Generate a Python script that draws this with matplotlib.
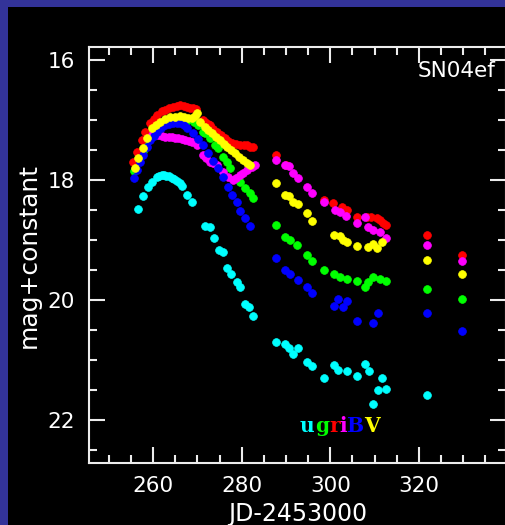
import matplotlib
matplotlib.use("Agg")
import matplotlib.pyplot as plt
from matplotlib.patches import Rectangle
from matplotlib.ticker import MultipleLocator

# light curves of SN 2004ef, days are JD-2453000
u_day = [256.5, 257.6, 258.8, 259.7, 260.8, 261.4, 261.9, 262.5, 263.0, 263.6, 264.2, 264.8,
         265.3, 266.0, 266.6, 267.6, 268.7, 271.7, 272.8, 273.8, 274.9, 275.8, 276.7,
         277.6, 278.9, 279.6, 280.7, 281.6, 282.6,
         287.7, 289.8, 290.7, 291.6, 292.6, 294.7, 295.8, 298.6, 300.8, 301.8, 303.7,
         306.0, 307.8, 308.8, 309.7, 310.7, 311.8, 312.7, 321.8]
u_mag = [18.49, 18.27, 18.11, 18.03, 17.95, 17.93, 17.92, 17.92, 17.93, 17.94, 17.96, 17.98,
         18.01, 18.05, 18.10, 18.25, 18.36, 18.77, 18.79, 18.97, 19.16, 19.20, 19.47,
         19.56, 19.70, 19.78, 20.06, 20.11, 20.27,
         20.70, 20.73, 20.80, 20.90, 20.80, 21.03, 21.10, 21.30, 21.08, 21.17, 21.18,
         21.27, 21.07, 21.18, 21.74, 21.51, 21.30, 21.49, 21.58]

g_day = [255.7, 256.6, 257.7, 258.6, 259.7, 261.1, 262.4, 263.8, 265.2, 266.5, 267.9, 269.2,
         270.1, 271.2, 271.7, 272.8, 274.0, 274.6, 275.8, 276.7, 277.3, 279.6, 280.7,
         281.9, 282.5,
         287.7, 289.8, 290.9, 292.4, 294.7, 295.8, 298.6, 300.8, 302.2, 303.8, 306.0,
         307.8, 308.6, 309.7, 311.2, 312.7, 321.8, 329.7]
g_mag = [17.85, 17.68, 17.52, 17.36, 17.20, 17.10, 17.04, 17.00, 16.98, 16.98, 17.00, 17.03,
         17.08, 17.20, 17.22, 17.30, 17.42, 17.47, 17.62, 17.70, 17.80, 18.03, 18.13,
         18.22, 18.30,
         18.75, 18.95, 19.00, 19.08, 19.25, 19.35, 19.50, 19.57, 19.61, 19.65, 19.68,
         19.79, 19.70, 19.62, 19.65, 19.68, 19.82, 19.98]

r_day = [255.4, 256.3, 257.5, 258.1, 259.3, 260.1, 260.9, 262.0, 262.7, 263.6, 264.5, 265.4,
         266.1, 266.9, 267.6, 268.4, 269.0, 269.6, 271.2, 271.7, 272.4, 272.8, 273.5,
         274.4, 275.3, 276.2, 277.0, 277.8, 278.7, 279.6, 280.5, 281.2, 281.9, 282.5,
         287.7, 290.1, 298.6, 300.7, 302.6, 303.7, 306.0, 308.2, 309.3, 310.5, 311.2,
         312.0, 312.7, 321.8, 329.7]
r_mag = [17.70, 17.53, 17.33, 17.20, 17.05, 16.98, 16.92, 16.85, 16.83, 16.80, 16.78, 16.76,
         16.75, 16.76, 16.78, 16.79, 16.80, 16.82, 17.00, 17.03, 17.07, 17.08, 17.15,
         17.20, 17.25, 17.30, 17.35, 17.38, 17.40, 17.42, 17.42, 17.42, 17.44, 17.45,
         17.58, 17.75, 18.33, 18.39, 18.45, 18.50, 18.62, 18.62, 18.61, 18.64, 18.67,
         18.71, 18.75, 18.92, 19.25]

i_day = [259.7, 260.4, 261.1, 261.9, 262.7, 263.5, 264.2, 264.9, 265.6, 266.4, 267.2, 268.0,
         268.8, 269.9, 271.2, 272.0, 272.8, 273.6, 274.4, 275.8, 276.9, 278.0, 278.8,
         279.6, 280.4, 281.2, 282.3, 283.0,
         287.7, 289.8, 290.7, 291.6, 292.6, 294.7, 295.8, 298.6, 301.1, 302.2, 303.5,
         306.0, 307.8, 308.6, 309.7, 311.2, 312.7, 321.8, 329.7]
i_mag = [17.25, 17.25, 17.25, 17.27, 17.28, 17.28, 17.28, 17.29, 17.30, 17.31, 17.33, 17.35,
         17.37, 17.42, 17.58, 17.64, 17.70, 17.72, 17.75, 17.87, 17.95, 18.00, 17.96,
         17.92, 17.88, 17.83, 17.78, 17.75,
         17.66, 17.75, 17.77, 17.89, 17.97, 18.11, 18.22, 18.37, 18.50, 18.54, 18.60,
         18.71, 18.62, 18.78, 18.83, 18.86, 18.97, 19.08, 19.35]

B_day = [255.7, 256.3, 257.0, 257.7, 258.6, 259.3, 260.1, 260.9, 261.8, 262.7, 263.6, 264.5,
         265.3, 266.1, 266.9, 267.6, 269.0, 270.1, 271.2, 272.4, 273.5, 274.6, 275.8,
         276.9, 277.8, 278.9, 279.6, 280.7, 281.9,
         287.7, 289.8, 290.9, 292.8, 294.7, 295.8, 300.8, 301.8, 302.8, 303.7, 306.0,
         309.7, 310.7, 321.8, 329.7]
B_mag = [17.97, 17.83, 17.70, 17.58, 17.45, 17.33, 17.26, 17.20, 17.13, 17.08, 17.06, 17.05,
         17.05, 17.05, 17.08, 17.13, 17.22, 17.32, 17.42, 17.55, 17.68, 17.80, 17.95,
         18.12, 18.25, 18.37, 18.52, 18.63, 18.77,
         19.30, 19.50, 19.57, 19.66, 19.79, 19.88, 20.10, 19.99, 20.11, 20.01, 20.35,
         20.38, 20.22, 20.22, 20.51]

V_day = [255.9, 256.6, 257.7, 258.6, 259.7, 260.6, 261.5, 262.7, 263.8, 264.9, 266.1, 266.9,
         267.9, 268.8, 269.4, 269.9, 270.6, 271.7, 272.4, 273.3, 274.2, 275.1, 276.0,
         276.7, 277.6, 278.5, 279.4, 280.3, 281.2, 281.9,
         287.7, 289.8, 290.7, 291.6, 292.8, 294.7, 295.8, 300.8, 302.2, 302.9, 303.8,
         306.0, 308.6, 309.7, 310.5, 311.8, 321.8, 329.7]
V_mag = [17.80, 17.63, 17.47, 17.30, 17.13, 17.08, 17.03, 16.98, 16.95, 16.94, 16.93, 16.94,
         16.97, 16.97, 16.93, 16.88, 17.03, 17.12, 17.17, 17.22, 17.28, 17.33, 17.40,
         17.45, 17.50, 17.55, 17.62, 17.67, 17.72, 17.75,
         18.05, 18.25, 18.27, 18.37, 18.40, 18.55, 18.68, 18.92, 18.94, 19.00, 19.04,
         19.10, 19.11, 19.06, 19.14, 19.03, 19.33, 19.57]

bands = ["u", "g", "r", "i", "B", "V"]
colors = {"u": "#00ffff", "g": "#00ff00", "r": "#ff0000",
          "i": "#ff00ff", "B": "#0000ff", "V": "#ffff00"}
data = {"u": (u_day, u_mag), "g": (g_day, g_mag), "r": (r_day, r_mag),
        "i": (i_day, i_mag), "B": (B_day, B_mag), "V": (V_day, V_mag)}

fg = "#ececec"
fig = plt.figure(figsize=(5.05, 5.25), dpi=100)
fig.patch.set_facecolor("#333399")
fig.add_artist(Rectangle((8 / 505, 0), 1, 518 / 525, transform=fig.transFigure,
                         facecolor="black", edgecolor="none", zorder=-10))

ax = fig.add_axes([89 / 505, 62 / 525, 417 / 505, 416 / 525])
ax.set_facecolor("black")

for b in bands:
    d, m = data[b]
    ax.plot(d, m, "o", ls="none", color=colors[b], ms=5.6, mec=colors[b], mew=0.5)

ax.set_xlim(245.5, 339.7)
ax.set_ylim(22.72, 15.78)
ax.xaxis.set_major_locator(MultipleLocator(20))
ax.xaxis.set_minor_locator(MultipleLocator(5))
ax.yaxis.set_major_locator(MultipleLocator(2))
ax.yaxis.set_minor_locator(MultipleLocator(0.5))

for s in ax.spines.values():
    s.set_color(fg)
    s.set_linewidth(1.5)
ax.tick_params(which="both", direction="in", top=True, right=True, color=fg,
               width=1.5, labelcolor="white", labelsize=15.5)
ax.tick_params(which="major", length=11.5)
ax.tick_params(which="minor", length=5.8)
ax.tick_params(axis="y", pad=10)
ax.tick_params(axis="x", pad=9)

ax.set_xlabel("JD-2453000", color="white", fontsize=17, labelpad=5)
ax.set_ylabel("mag+constant", color="white", fontsize=18, labelpad=5)

ax.text(0.789, 0.928, "SN04ef", transform=ax.transAxes, color="white",
        fontsize=15.5, ha="left", va="baseline")

# band legend, one coloured letter after another
fig.canvas.draw()
renderer = fig.canvas.get_renderer()
x0 = (300 - 89) / 417
for b in bands:
    t = ax.text(x0, 0.0745, b, transform=ax.transAxes, color=colors[b],
                fontsize=14.5, family="DejaVu Serif", weight="bold",
                ha="left", va="baseline")
    bb = t.get_window_extent(renderer)
    x0 += bb.width / ax.bbox.width

fig.savefig("out.png", dpi=100, facecolor=fig.get_facecolor())
